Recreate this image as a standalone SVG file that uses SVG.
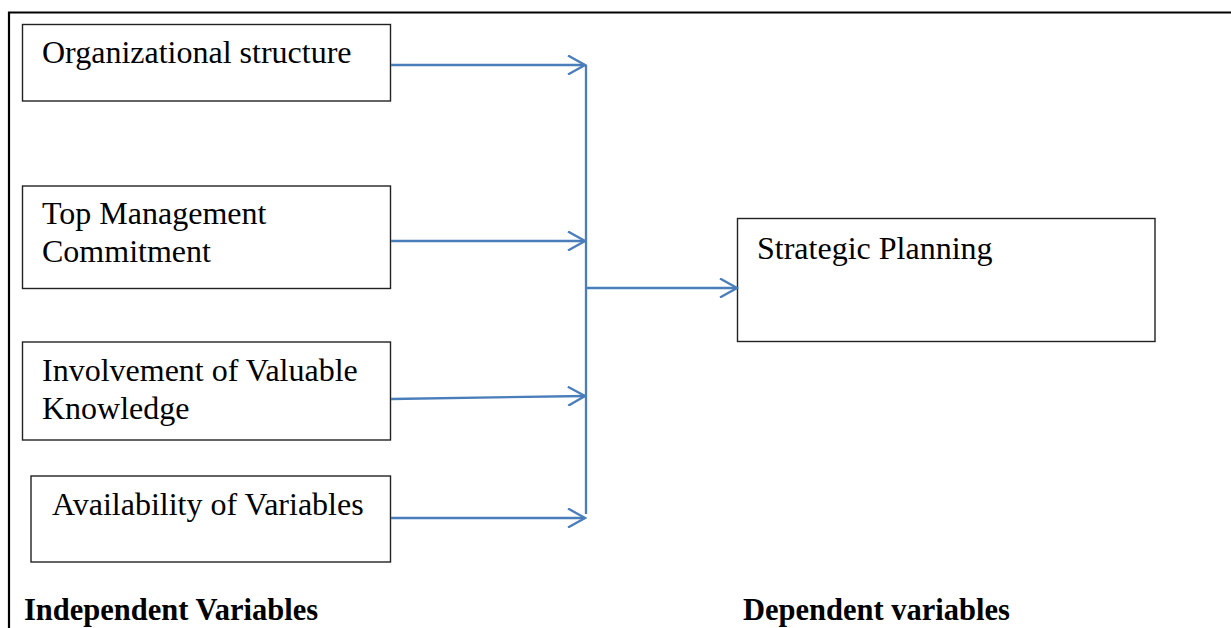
<svg xmlns="http://www.w3.org/2000/svg" width="1231" height="628" viewBox="0 0 1231 628">
<defs>
<style>
.box{fill:#fff;stroke:#222;stroke-width:1.4}
.t{font-family:"Liberation Serif","Times New Roman",serif;font-size:32px;fill:#000}
.b{font-family:"Liberation Serif","Times New Roman",serif;font-size:30.5px;font-weight:bold;fill:#000}
.c{fill:none;stroke:#4A7EBB;stroke-width:2.3}
</style>
<marker id="ah" viewBox="0 0 20 20" refX="18" refY="10" markerWidth="20" markerHeight="20" markerUnits="userSpaceOnUse" orient="auto">
<path d="M1,0.5 L18,10 L1,19.5" fill="none" stroke="#4A7EBB" stroke-width="2.3"/>
</marker>
</defs>
<rect width="1231" height="628" fill="#fff"/>
<path d="M9,628 V12.5 H1231" fill="none" stroke="#000" stroke-width="2.2"/>
<g id="n1"><rect class="box" x="22.5" y="24.5" width="368" height="76.5"/><text class="t" x="42" y="63">Organizational structure</text></g>
<g id="n2"><rect class="box" x="22.5" y="186" width="368" height="102.5"/><text class="t" x="42" y="224">Top Management</text><text class="t" x="42" y="262">Commitment</text></g>
<g id="n3"><rect class="box" x="22.5" y="342" width="368" height="98"/><text class="t" x="42" y="381">Involvement of Valuable</text><text class="t" x="42" y="419">Knowledge</text></g>
<g id="n4"><rect class="box" x="31" y="476" width="359.5" height="86"/><text class="t" x="52" y="515">Availability of Variables</text></g>
<g id="n5"><rect class="box" x="737.5" y="218.5" width="417.5" height="123"/><text class="t" x="757" y="259">Strategic Planning</text></g>
<g id="connectors">
<line class="c" x1="391" y1="65" x2="585" y2="65" marker-end="url(#ah)"/>
<line class="c" x1="391" y1="241" x2="585" y2="241" marker-end="url(#ah)"/>
<line class="c" x1="391" y1="399" x2="585" y2="396" marker-end="url(#ah)"/>
<line class="c" x1="391" y1="518" x2="585" y2="518" marker-end="url(#ah)"/>
<line class="c" x1="586" y1="65" x2="586" y2="514"/>
<line class="c" x1="586" y1="288" x2="737" y2="288" marker-end="url(#ah)"/>
</g>
<text class="b" x="24" y="620">Independent Variables</text>
<text class="b" x="743" y="620">Dependent variables</text>
</svg>
